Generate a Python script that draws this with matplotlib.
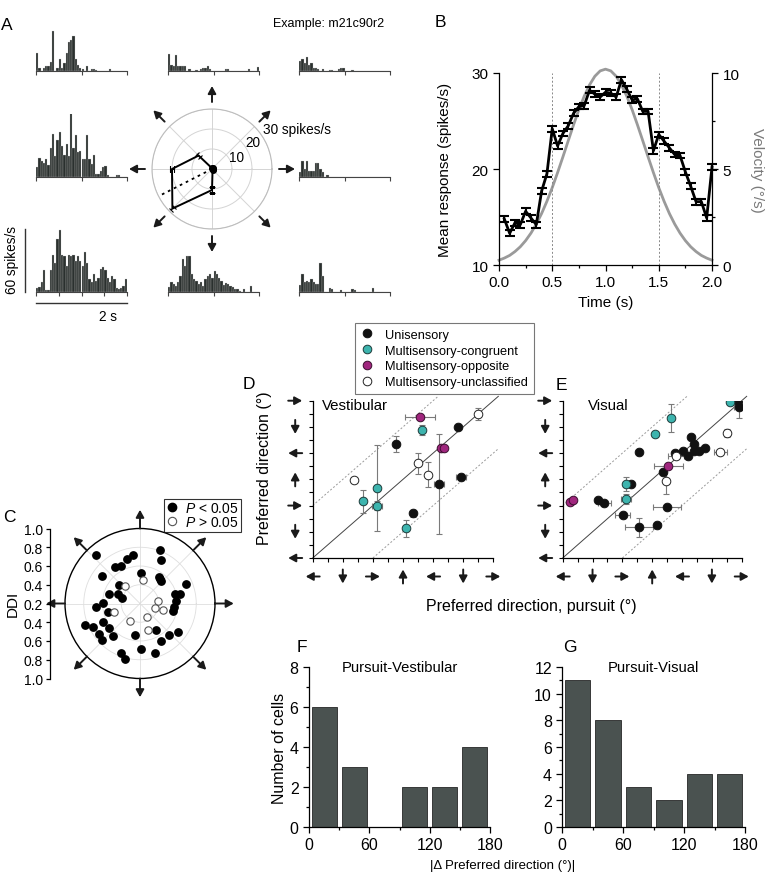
import numpy as np
import matplotlib
matplotlib.use('Agg')
import matplotlib.pyplot as plt
from matplotlib.transforms import offset_copy
from matplotlib.lines import Line2D
from matplotlib.ticker import MultipleLocator

plt.rcParams['font.family'] = ['Liberation Sans', 'DejaVu Sans']
plt.rcParams['mathtext.fontset'] = 'custom'
plt.rcParams['mathtext.rm'] = 'Liberation Sans'
plt.rcParams['mathtext.it'] = 'Liberation Sans:italic'
plt.rcParams['axes.linewidth'] = 0.9

# ======================= DATA =======================
# Panel A: PSTHs (spikes/s), 40 bins of 50 ms over 2 s, per pursuit direction
psth_0 = [5, 16, 8, 16, 6, 6, 6, 14, 14, 8, 5, 0, 2, 0, 0, 0, 0, 0, 0, 0,
          0, 0, 0, 0, 0, 0, 0, 0, 0, 0, 0, 0, 0, 0, 0, 0, 0, 0, 0, 0]
psth_45 = [10, 11, 8, 13, 6, 8, 3, 3, 2, 0, 2, 0, 0, 1, 1, 0, 0, 2, 3, 3,
           0, 0, 0, 1, 0, 0, 0, 0, 0, 0, 0, 0, 0, 0, 0, 0, 0, 0, 0, 0]
psth_90 = [16, 6, 5, 15, 5, 5, 5, 5, 0, 2, 0, 0, 1, 0, 2, 3, 3, 5, 2, 0,
           0, 0, 0, 0, 0, 2, 2, 0, 0, 0, 0, 0, 0, 0, 0, 2, 0, 0, 0, 4]
psth_135 = [17, 3, 0, 3, 5, 5, 9, 38, 0, 3, 11, 3, 8, 17, 28, 30, 33, 11, 6, 3,
            2, 0, 5, 0, 2, 2, 1, 0, 0, 0, 0, 0, 2, 0, 0, 0, 0, 0, 0, 0]
psth_180 = [10, 18, 16, 14, 17, 12, 28, 41, 20, 36, 43, 30, 21, 32, 20, 61, 28, 40, 24, 25,
            17, 17, 40, 17, 13, 21, 3, 3, 6, 10, 11, 2, 0, 0, 0, 2, 2, 0, 0, 0]
psth_225 = [4, 5, 10, 21, 2, 2, 21, 36, 28, 51, 59, 36, 35, 25, 36, 35, 36, 30, 35, 30,
            25, 38, 28, 13, 10, 17, 11, 14, 22, 24, 21, 14, 10, 16, 13, 4, 3, 4, 6, 13]
psth_270 = [5, 10, 8, 6, 10, 16, 32, 25, 35, 35, 17, 13, 11, 8, 10, 6, 13, 16, 17, 14,
            20, 17, 14, 11, 7, 9, 8, 6, 5, 3, 3, 1, 0, 3, 0, 0, 6, 0, 0, 0]
psth_315 = [7, 17, 10, 11, 10, 13, 10, 8, 8, 28, 16, 0, 0, 4, 3, 0, 0, 0, 2, 0,
            0, 0, 0, 3, 2, 0, 0, 0, 0, 0, 0, 0, 4, 0, 0, 0, 0, 0, 0, 0]

tuning_dirs = [0, 45, 90, 135, 180, 225, 270, 315]
tuning_resp = [0.4, 0.4, 0.4, 9.5, 20.0, 28.0, 10.5, 0.4]
tuning_sem = [0.3, 0.3, 0.3, 1.2, 1.2, 1.0, 1.5, 0.3]
pref_dir_A = 207
ring_labels = ['10', '20', '30 spikes/s']

# Panel B
resp_mean = [14.8, 13.3, 14.4, 14.2, 15.6, 14.9, 14.2, 17.7, 19.5, 24.2,
             22.4, 23.7, 24.5, 25.8, 26.5, 26.6, 28.2, 27.8, 27.5, 28.0,
             27.9, 27.5, 29.3, 28.3, 27.2, 27.3, 26.0, 26.0, 21.9, 23.6,
             22.9, 22.2, 21.5, 21.4, 19.7, 18.2, 16.6, 16.6, 14.9, 20.2]
resp_sem = 0.3
velocity = [0.25, 0.36, 0.50, 0.70, 0.95, 1.27, 1.66, 2.13, 2.68, 3.32,
            4.03, 4.81, 5.63, 6.47, 7.30, 8.09, 8.79, 9.38, 9.83, 10.11,
            10.2,
            10.11, 9.83, 9.38, 8.79, 8.09, 7.30, 6.47, 5.63, 4.81, 4.03,
            3.32, 2.68, 2.13, 1.66, 1.27, 0.95, 0.70, 0.50, 0.36, 0.25]

# Panel C: direction (deg) and DDI
C_sig_dir = [131.8, 144.0, 124.2, 117.1, 106.2, 97.9, 138.6, 163.0, 157.3, 163.6,
             184.1, 179.7, 88.2, 69.5, 64.2, 54.2, 50.8, 47.8, 23.1, 14.9,
             13.4, 4.4, 353.6, 347.8, 323.3, 312.9, 298.5, 300.6, 287.4, 271.2,
             261.0, 248.7, 255.2, 229.7, 218.7, 224.1, 216.8, 206.4, 206.7, 201.4, 195.5]
C_sig_ddi = [0.90, 0.70, 0.67, 0.65, 0.69, 0.72, 0.50, 0.55, 0.46, 0.40,
             0.67, 0.59, 0.53, 0.81, 0.71, 0.55, 0.54, 0.53, 0.73, 0.59,
             0.64, 0.59, 0.56, 0.56, 0.70, 0.66, 0.66, 0.53, 0.75, 0.69,
             0.54, 0.77, 0.81, 0.65, 0.62, 0.76, 0.74, 0.64, 0.76, 0.83, 0.55]
C_ns_dir = [131.4, 83.2, 7.2, 343.3, 344.4, 296.9, 287.4, 239.8, 198.9]
C_ns_ddi = [0.45, 0.45, 0.39, 0.37, 0.46, 0.36, 0.50, 0.41, 0.49]
ddi_tick_labels = ['1.0', '0.8', '0.6', '0.4', '0.2', '0.4', '0.6', '0.8', '1.0']

# Panel D (vestibular vs pursuit)
D_x = [500, 507, 615, 674, 430, 565, 572, 495, 525, 557, 623, 302, 372, 329, 372, 480, 460]
D_y = [665, 620, 631, 674, 572, 556, 559, 505, 466, 434, 457, 449, 419, 374, 360, 334, 282]
D_xerr = [45, 0, 0, 0, 0, 0, 0, 0, 0, 15, 15, 0, 0, 0, 15, 0, 0]
D_yerr = [0, 18, 0, 20, 27, 0, 0, 35, 43, 170, 0, 0, 148, 40, 15, 12, 30]
D_cat = ['O', 'C', 'U', 'N', 'U', 'O', 'O', 'N', 'N', 'U', 'U', 'N', 'C', 'C', 'C', 'U', 'C']

# Panel E (visual vs pursuit)
E_x = [685, 710, 713, 506, 459, 675, 567, 577, 610, 544, 592, 577, 557, 522, 519, 655,
       410, 499, 484, 492, 371, 386, 371, 202, 210, 286, 306, 494, 361, 410, 465]
E_y = [717, 718, 700, 659, 604, 609, 596, 571, 556, 546, 548, 548, 531, 529, 540, 545,
       543, 497, 476, 443, 434, 434, 382, 371, 379, 379, 370, 354, 328, 286, 294]
E_xerr = [0, 0, 15, 0, 0, 0, 0, 0, 0, 0, 0, 0, 0, 25, 0, 20,
          0, 45, 0, 0, 0, 0, 15, 0, 0, 0, 20, 42, 22, 42, 0]
E_yerr = [0, 0, 40, 48, 0, 15, 0, 0, 0, 0, 0, 0, 12, 0, 0, 0,
          0, 0, 0, 45, 25, 0, 17, 0, 0, 0, 0, 0, 0, 33, 0]
E_cat = ['C', 'U', 'U', 'C', 'C', 'N', 'U', 'U', 'U', 'U', 'U', 'U', 'U', 'N', 'U', 'N',
         'U', 'O', 'U', 'N', 'C', 'U', 'C', 'O', 'O', 'U', 'U', 'U', 'U', 'U', 'U']

cat_names = ['Unisensory', 'Multisensory-congruent', 'Multisensory-opposite',
             'Multisensory-unclassified']

# Panels F, G
hist_centers = [15, 45, 75, 105, 135, 165]
F_counts = [6, 3, 0, 2, 2, 4]
G_counts = [11, 8, 3, 2, 4, 4]

# ======================= FIGURE =======================
W, H = 765, 879
fig = plt.figure(figsize=(W / 100, H / 100), dpi=100)


def rect(x0, y0, x1, y1):
    return [x0 / W, 1 - y1 / H, (x1 - x0) / W, (y1 - y0) / H]


def ftext(x, y, s, **kw):
    return fig.text(x / W, 1 - y / H, s, **kw)


AP = dict(arrowstyle='-|>,head_length=0.55,head_width=0.3', color='#1a1a1a', lw=1.4,
          shrinkA=0, shrinkB=0, mutation_scale=8)

# ---------------- Panel A ----------------
bar_col = '#2a302e'
t_bins = np.arange(40) * 0.05 + 0.025
psth_layout = [
    (psth_135, 36, 72), (psth_90, 168, 72), (psth_45, 299, 72),
    (psth_180, 36, 178.3), (psth_0, 299, 178.3),
    (psth_225, 36, 293.3), (psth_270, 168, 293.3), (psth_315, 299, 293.3),
]
hist_axes = []
for vals, x0, yb in psth_layout:
    ax = fig.add_axes(rect(x0, yb - 63, x0 + 91, yb))
    ax.bar(t_bins, vals, width=0.05, color=bar_col, edgecolor='#c8c8c8', linewidth=0.2)
    ax.set_xlim(0, 2)
    ax.set_ylim(0, 60)
    for s in ['left', 'right', 'top']:
        ax.spines[s].set_visible(False)
    ax.spines['bottom'].set_color('#444444')
    ax.spines['bottom'].set_linewidth(0.8)
    ax.set_yticks([])
    ax.set_xticks([0, 1, 2])
    ax.set_xticklabels([])
    ax.tick_params(axis='x', direction='out', length=3, width=0.8, color='#444444')
    ax.patch.set_visible(False)
    hist_axes.append(ax)

axBL = hist_axes[5]
axBL.set_xticks([0, 0.5, 1, 1.5, 2])
axBL.set_xticklabels([])
axBL.plot([-0.24, -0.24], [0, 60], color='#333333', lw=1.0, clip_on=False)
axBL.plot([0, 2], [-10.5, -10.5], color='#333333', lw=1.0, clip_on=False)
axBL.text(1.58, -23, '2 s', ha='center', va='center', fontsize=9.8)
ftext(12, 260, '60 spikes/s', rotation=90, ha='center', va='center', fontsize=9.8)

axp = fig.add_axes(rect(152, 110, 272, 230), projection='polar')
axp.set_ylim(0, 30)
axp.set_thetagrids(range(0, 360, 45), labels=[])
axp.set_rgrids([10, 20, 30], labels=[])
axp.grid(color='#d4d4d4', lw=0.7)
axp.spines['polar'].set_color('#bdbdbd')
axp.spines['polar'].set_linewidth(0.8)
axp.tick_params(length=0)
th = np.deg2rad(tuning_dirs + tuning_dirs[:1])
rr = tuning_resp + tuning_resp[:1]
axp.plot(th, rr, color='k', lw=1.4, zorder=3)
axp.errorbar(np.deg2rad(tuning_dirs), tuning_resp, yerr=tuning_sem, fmt='none',
             ecolor='k', elinewidth=0.8, capsize=2.2, capthick=0.8, zorder=3)
small = [i for i, v in enumerate(tuning_resp) if v < 2]
axp.plot(np.deg2rad([tuning_dirs[i] for i in small]), [tuning_resp[i] for i in small],
         'o', color='k', ms=4, zorder=4)
axp.plot([np.deg2rad(pref_dir_A)] * 2, [0, 30], color='k', lw=1.3, ls=(0, (1.5, 2.2)), zorder=3)
for ang in tuning_dirs:
    axp.annotate('', xy=(np.deg2rad(ang), 41.5), xytext=(np.deg2rad(ang), 33.5),
                 arrowprops=AP, annotation_clip=False)
ring_pos = [(25.3, 13.7, 'center'), (33.7, 24.6, 'center'), (38.0, 32.4, 'left')]
for lab, (a, r, ha) in zip(ring_labels, ring_pos):
    axp.text(np.deg2rad(a), r, lab, ha=ha, va='center', fontsize=9.8, clip_on=False)

ftext(273, 24, 'Example: m21c90r2', ha='left', va='center', fontsize=9)

# ---------------- Panel B ----------------
axB = fig.add_axes(rect(499, 74, 712, 266))
axV = axB.twinx()
t_resp = np.arange(1, 41) * 0.05
t_vel = np.linspace(0, 2, 41)
axV.plot(t_vel, velocity, color='#9a9a9a', lw=2.0, clip_on=False)
axV.set_ylim(0, 10)
axB.set_zorder(axV.get_zorder() + 1)
axB.patch.set_visible(False)
axB.axvline(0.5, color='#888888', lw=0.7, ls=(0, (2, 2)))
axB.axvline(1.5, color='#888888', lw=0.7, ls=(0, (2, 2)))
axB.errorbar(t_resp, resp_mean, yerr=resp_sem, color='k', lw=2.0, capsize=3.5,
             capthick=1.5, elinewidth=1.5, clip_on=False)
axB.set_xlim(0, 2)
axB.set_ylim(10, 30)
axB.set_xticks([0, 0.5, 1.0, 1.5, 2.0])
axB.set_xticklabels(['0.0', '0.5', '1.0', '1.5', '2.0'])
axB.xaxis.set_minor_locator(MultipleLocator(0.25))
axB.set_yticks([10, 20, 30])
axV.set_yticks([0, 5, 10])
axV.yaxis.set_minor_locator(MultipleLocator(2.5))
for a in (axB, axV):
    a.spines['top'].set_visible(False)
    a.tick_params(which='both', direction='out', labelsize=11, width=0.9)
    a.tick_params(which='major', length=4)
    a.tick_params(which='minor', length=2.5)
axB.spines['right'].set_visible(False)
axV.spines['left'].set_visible(False)
axV.spines['bottom'].set_visible(False)
axB.set_ylabel('Mean response (spikes/s)', fontsize=11)
axB.yaxis.set_label_coords(-0.22, 0.5)
axB.set_xlabel('Time (s)', fontsize=11)
axB.xaxis.set_label_coords(0.5, -0.155)
axV.set_ylabel('Velocity (°/s)', fontsize=11, color='#7a7a7a', rotation=270, va='center')
axV.yaxis.set_label_coords(1.21, 0.5)

# ---------------- Panel C ----------------
axC = fig.add_axes(rect(65, 529.5, 215, 679.5), projection='polar')
axC.set_ylim(0.2, 1.0)
axC.set_thetagrids(range(0, 360, 45), labels=[])
axC.set_rgrids([0.4, 0.6, 0.8], labels=[])
axC.grid(color='#dedede', lw=0.6)
axC.spines['polar'].set_color('k')
axC.spines['polar'].set_linewidth(1.0)
axC.tick_params(length=0)
axC.plot(np.deg2rad(C_sig_dir), C_sig_ddi, 'o', ms=5.3, color='k', mec='k', zorder=4)
axC.plot(np.deg2rad(C_ns_dir), C_ns_ddi, 'o', ms=5.3, mfc='white', mec='#555555',
         mew=0.8, zorder=4)
for ang in range(0, 360, 45):
    axC.annotate('', xy=(np.deg2rad(ang), 1.2), xytext=(np.deg2rad(ang), 1.0),
                 arrowprops=AP, annotation_clip=False)

axDDI = fig.add_axes(rect(50, 529.5, 51, 679.5))
axDDI.set_ylim(-4, 4)
axDDI.set_yticks(range(-4, 5))
axDDI.set_yticklabels(ddi_tick_labels[::-1], fontsize=10)
axDDI.set_xticks([])
for s in ['right', 'top', 'bottom']:
    axDDI.spines[s].set_visible(False)
axDDI.tick_params(axis='y', direction='out', length=3, width=0.9, pad=2)
axDDI.patch.set_visible(False)
ftext(13, 604, 'DDI', rotation=90, ha='center', va='center', fontsize=11)

leg_c = [Line2D([], [], ls='none', marker='o', ms=6, color='k'),
         Line2D([], [], ls='none', marker='o', ms=6, mfc='white', mec='#555555', mew=0.8)]
lc = fig.legend(leg_c, ['$P$ < 0.05', '$P$ > 0.05'], loc='upper left',
                bbox_to_anchor=(164 / W, 1 - 499.5 / H), frameon=True, fancybox=False,
                fontsize=10, handlelength=0.8, handletextpad=0.5, borderpad=0.2,
                labelspacing=0.0, borderaxespad=0)
lc.get_frame().set_edgecolor('k')
lc.get_frame().set_linewidth(0.8)

# ---------------- Panels D, E ----------------
cat_style = {
    'U': dict(mfc='#111111', mec='#111111'),
    'C': dict(mfc='#3db4ae', mec='#1d3b3a'),
    'O': dict(mfc='#a0267e', mec='#3a0e2e'),
    'N': dict(mfc='white', mec='#222222'),
}
cat_keys = ['U', 'C', 'O', 'N']
arrow_vec = {0: (1, 0), 90: (0, 1), 180: (-1, 0), 270: (0, -1)}


def dir_arrow(ax, val, axis):
    vx, vy = arrow_vec[val % 360]
    L = 7.0
    if axis == 'x':
        base = ax.get_xaxis_transform()
        pos = (val, 0)
        cx, cy = 0, -18.5
    else:
        base = ax.get_yaxis_transform()
        pos = (0, val)
        cx, cy = -17.5, 0
    t_tip = offset_copy(base, fig=fig, x=cx + vx * L, y=cy + vy * L, units='dots')
    t_tail = offset_copy(base, fig=fig, x=cx - vx * L, y=cy - vy * L, units='dots')
    ax.annotate('', xy=pos, xycoords=t_tip, xytext=pos, textcoords=t_tail,
                arrowprops=AP, annotation_clip=False)


def dir_panel(ax, xs, ys, xe, ye, cats, title, title_x):
    ax.set_xlim(180, 720)
    ax.set_ylim(180, 720)
    ax.plot([180, 735], [180, 735], color='#444444', lw=0.7, clip_on=False, zorder=1)
    ax.plot([180, 555], [360, 735], color='#9a9a9a', lw=0.7, ls=(0, (2, 2)), clip_on=False, zorder=1)
    ax.plot([360, 735], [180, 555], color='#9a9a9a', lw=0.7, ls=(0, (2, 2)), clip_on=False, zorder=1)
    ax.errorbar(xs, ys, xerr=xe, yerr=ye, fmt='none', ecolor='#7a7a7a', elinewidth=0.8,
                capsize=2, capthick=0.8, zorder=2)
    for k in cat_keys:
        idx = [i for i, c in enumerate(cats) if c == k]
        ax.plot([xs[i] for i in idx], [ys[i] for i in idx], 'o', ms=6.2, mew=0.7,
                ls='none', zorder=3, **cat_style[k])
    ticks = list(range(180, 721, 90))
    ax.set_xticks(ticks)
    ax.set_yticks(ticks)
    ax.xaxis.set_minor_locator(MultipleLocator(45))
    ax.yaxis.set_minor_locator(MultipleLocator(45))
    ax.set_xticklabels([])
    ax.set_yticklabels([])
    ax.tick_params(which='both', direction='out', length=3, width=0.8)
    ax.spines['top'].set_visible(False)
    ax.spines['right'].set_visible(False)
    ax.patch.set_visible(False)
    for v in ticks:
        dir_arrow(ax, v, 'x')
        dir_arrow(ax, v, 'y')
    ax.text(title_x, 0.97, title, transform=ax.transAxes, ha='left', va='center', fontsize=10.8)


axDp = fig.add_axes(rect(312.7, 401.7, 493.3, 559))
dir_panel(axDp, D_x, D_y, D_xerr, D_yerr, D_cat, 'Vestibular', 0.05)
axEp = fig.add_axes(rect(562.7, 401.7, 741.7, 559))
dir_panel(axEp, E_x, E_y, E_xerr, E_yerr, E_cat, 'Visual', 0.14)

ftext(265, 468, 'Preferred direction (°)', rotation=90, ha='center', va='center', fontsize=11.5)
ftext(531, 607, 'Preferred direction, pursuit (°)', ha='center', va='center', fontsize=11.5)

leg_h = [Line2D([], [], ls='none', marker='o', ms=6.2, mew=0.7, **cat_style[k]) for k in cat_keys]
ld = fig.legend(leg_h, cat_names, loc='upper left', bbox_to_anchor=(355 / W, 1 - 324 / H),
                frameon=True, fancybox=False, fontsize=9.2, handlelength=1.0,
                handletextpad=0.9, borderpad=0.45, labelspacing=0.3, borderaxespad=0)
ld.get_frame().set_edgecolor('#555555')
ld.get_frame().set_linewidth(0.8)

# ---------------- Panels F, G ----------------
hist_col = '#4a5250'


def count_panel(ax, counts, ymax, title):
    ax.bar(hist_centers, counts, width=25, color=hist_col, edgecolor='#262626', linewidth=0.6)
    ax.set_xlim(0, 180)
    ax.set_ylim(0, ymax)
    ax.set_xticks([0, 60, 120, 180])
    ax.xaxis.set_minor_locator(MultipleLocator(30))
    ax.set_yticks(range(0, ymax + 1, 2))
    ax.yaxis.set_minor_locator(MultipleLocator(1))
    ax.tick_params(which='both', direction='out', labelsize=11.5, width=0.9)
    ax.tick_params(which='major', length=4)
    ax.tick_params(which='minor', length=2.5)
    ax.spines['top'].set_visible(False)
    ax.spines['right'].set_visible(False)
    ax.text(0.5, 1.0, title, transform=ax.transAxes, ha='center', va='center', fontsize=10.6)


axF = fig.add_axes(rect(309, 668, 490, 828))
count_panel(axF, F_counts, 8, 'Pursuit-Vestibular')
axG = fig.add_axes(rect(562.3, 668, 745, 828))
count_panel(axG, G_counts, 12, 'Pursuit-Visual')
ftext(279, 748, 'Number of cells', rotation=90, ha='center', va='center', fontsize=11.5)
ftext(503, 866, '|Δ Preferred direction (°)|', ha='center', va='center', fontsize=9.5)

# ---------------- Panel letters ----------------
for lab, x, y in [('A', 7, 26), ('B', 440, 22.5), ('C', 9.5, 517.5), ('D', 249, 385),
                  ('E', 561, 386), ('F', 301.5, 648), ('G', 570, 648)]:
    ftext(x, y, lab, ha='center', va='center', fontsize=12.5)

fig.savefig('out.png', dpi=100)
